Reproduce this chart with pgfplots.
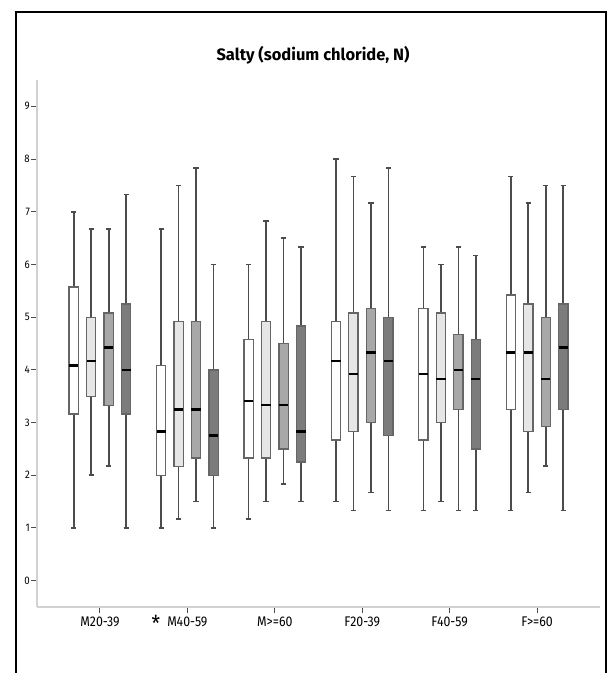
\documentclass[border=0pt]{standalone}
\usepackage{fontspec}
\setmainfont[FakeStretch=0.88]{Fira Sans}
\newfontfamily\titlefont{Fira Sans}
\usepackage{pgfplots}
\usepgfplotslibrary{statistics}
\pgfplotsset{compat=1.18}
\definecolor{cA}{HTML}{FFFFFF}
\definecolor{cB}{HTML}{E6E6E6}
\definecolor{cC}{HTML}{A8A8A8}
\definecolor{cD}{HTML}{7C7C7C}
% draw position, lower whisker, lower quartile, median, upper quartile, upper whisker, fill
\newcommand{\bx}[7]{\addplot[boxplot prepared={draw position=#1, lower whisker=#2, lower quartile=#3, median=#4, upper quartile=#5, upper whisker=#6}, fill=#7, draw=black!60, line width=1.3pt] coordinates {};}
\begin{document}
\begin{tikzpicture}
\useasboundingbox (0,0) rectangle (613pt,673pt);
\fill[white] (0,0) rectangle (613pt,673pt);
\draw[line width=2pt] (15.5pt,0pt) -- (15.5pt,660.5pt) -- (605.5pt,660.5pt) -- (605.5pt,0pt);
\node[font=\titlefont\bfseries\fontsize{16.5}{18}\selectfont] at (313pt,618pt) {Salty (sodium chloride, N)};
\begin{axis}[
  at={(37pt,66pt)}, anchor=south west,
  scale only axis, width=563pt, height=527pt,
  xmin=-0.72, xmax=5.72, ymin=-0.5, ymax=9.5,
  axis x line*=bottom, axis y line*=left,
  axis line style={-, draw=black!18, line width=1.5pt},
  xtick={0,1,2,3,4,5},
  xticklabels={M20-39,M40-59,M>=60,F20-39,F40-59,F>=60},
  ytick={0,1,...,9},
  /pgf/number format/assume math mode=true,
  tick align=outside, major tick length=6pt,
  tick style={black!70, line width=1pt},
  yticklabel style={font=\fontsize{11}{12}\selectfont, inner sep=1pt},
  xticklabel style={font=\fontsize{14}{15}\selectfont},
  boxplot/draw direction=y,
  boxplot/box extend=0.106,
  boxplot/whisker extend=0.06,
  boxplot/every whisker/.style={draw=black!70, line width=1.7pt},
  boxplot/every median/.style={draw=black, line width=2.5pt},
  clip=false,
]
% M20-39
\bx{-0.3}{1.00}{3.16}{4.08}{5.57}{7.00}{cA}
\bx{-0.1}{2.00}{3.50}{4.17}{5.00}{6.67}{cB}
\bx{0.1}{2.17}{3.33}{4.42}{5.08}{6.67}{cC}
\bx{0.3}{1.00}{3.16}{4.00}{5.25}{7.33}{cD}
% M40-59
\bx{0.7}{1.00}{2.00}{2.83}{4.08}{6.67}{cA}
\bx{0.9}{1.17}{2.17}{3.25}{4.92}{7.50}{cB}
\bx{1.1}{1.50}{2.33}{3.25}{4.92}{7.83}{cC}
\bx{1.3}{1.00}{2.00}{2.75}{4.00}{6.00}{cD}
% M>=60
\bx{1.7}{1.17}{2.33}{3.41}{4.58}{6.00}{cA}
\bx{1.9}{1.50}{2.33}{3.33}{4.92}{6.83}{cB}
\bx{2.1}{1.83}{2.50}{3.33}{4.50}{6.50}{cC}
\bx{2.3}{1.50}{2.25}{2.83}{4.83}{6.33}{cD}
% F20-39
\bx{2.7}{1.50}{2.67}{4.17}{4.92}{8.00}{cA}
\bx{2.9}{1.33}{2.83}{3.92}{5.08}{7.67}{cB}
\bx{3.1}{1.67}{3.00}{4.33}{5.17}{7.17}{cC}
\bx{3.3}{1.33}{2.75}{4.17}{5.00}{7.83}{cD}
% F40-59
\bx{3.7}{1.33}{2.67}{3.92}{5.17}{6.33}{cA}
\bx{3.9}{1.50}{3.00}{3.83}{5.08}{6.00}{cB}
\bx{4.1}{1.33}{3.25}{4.00}{4.67}{6.33}{cC}
\bx{4.3}{1.33}{2.50}{3.83}{4.58}{6.17}{cD}
% F>=60
\bx{4.7}{1.33}{3.25}{4.33}{5.42}{7.67}{cA}
\bx{4.9}{1.67}{2.83}{4.33}{5.25}{7.17}{cB}
\bx{5.1}{2.17}{2.92}{3.83}{5.00}{7.50}{cC}
\bx{5.3}{1.33}{3.25}{4.42}{5.25}{7.50}{cD}
\node[font=\fontsize{22}{22}\selectfont, inner sep=0pt] at (axis cs:0.64,-0.5) [yshift=-16pt] {*};
\end{axis}
\end{tikzpicture}
\end{document}
